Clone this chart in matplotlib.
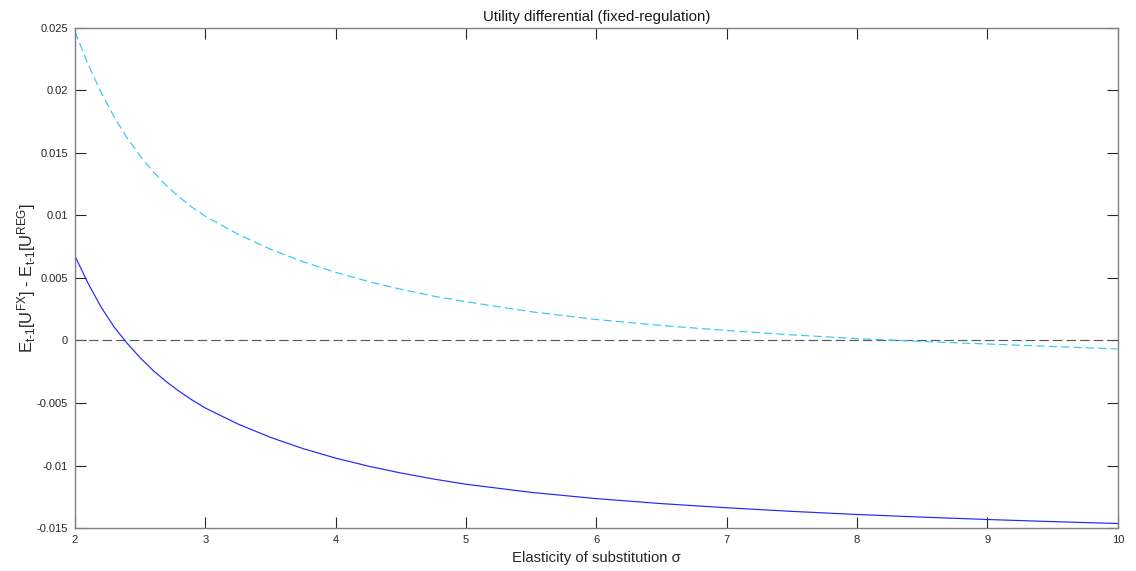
import matplotlib
matplotlib.use("Agg")
import matplotlib.pyplot as plt

plt.rcParams['font.family'] = ['Liberation Sans', 'DejaVu Sans']
plt.rcParams['mathtext.fontset'] = 'custom'
plt.rcParams['mathtext.rm'] = 'Liberation Sans'
plt.rcParams['mathtext.it'] = 'Liberation Sans'
plt.rcParams['mathtext.bf'] = 'Liberation Sans:bold'

sigma = [2.0, 2.1, 2.2, 2.3, 2.4, 2.5, 2.6, 2.7, 2.8, 2.9, 3.0, 3.25, 3.5, 3.75,
         4.0, 4.25, 4.5, 4.75, 5.0, 5.5, 6.0, 6.5, 7.0, 7.5, 8.0, 8.5, 9.0,
         9.5, 10.0]
solid_vals = [0.00676, 0.00458, 0.00268, 0.00108, -0.00022, -0.00138, -0.00240,
              -0.00329, -0.00407, -0.00477, -0.00540, -0.00668, -0.00775,
              -0.00865, -0.00941, -0.01005, -0.01060, -0.01108, -0.01150,
              -0.01215, -0.01265, -0.01305, -0.01338, -0.01367, -0.01392,
              -0.01413, -0.01432, -0.01449, -0.01464]
dashed_vals = [0.02470, 0.02210, 0.01985, 0.01790, 0.01620, 0.01476, 0.01350,
               0.01240, 0.01147, 0.01065, 0.00994, 0.00850, 0.00730, 0.00630,
               0.00545, 0.00472, 0.00410, 0.00355, 0.00310, 0.00230, 0.00168,
               0.00120, 0.00080, 0.00045, 0.00015, -0.00008, -0.00028,
               -0.00048, -0.00068]
zero_line = [0.0, 0.0]
x_range = [2, 10]

xticks = [2, 3, 4, 5, 6, 7, 8, 9, 10]
yticks = [-0.015, -0.01, -0.005, 0, 0.005, 0.01, 0.015, 0.02, 0.025]
yticklabels = ['-0.015', '-0.01', '-0.005', '0', '0.005', '0.01', '0.015', '0.02', '0.025']

fig = plt.figure(figsize=(11.36, 5.71), dpi=100)
ax = fig.add_axes([0.066, 0.0753, 0.918, 0.8757])

ax.plot(x_range, zero_line, linestyle=(0, (8, 3.5)), color='#5a5a5a', linewidth=0.85)
ax.plot(sigma, dashed_vals, linestyle=(0, (7, 3.5)), color='#33C8F5', linewidth=0.85)
ax.plot(sigma, solid_vals, linestyle='-', color='#2424FF', linewidth=0.85)

ax.set_xlim(2, 10)
ax.set_ylim(-0.015, 0.025)
ax.set_xticks(xticks)
ax.set_xticklabels([str(t) for t in xticks])
ax.set_yticks(yticks)
ax.set_yticklabels(yticklabels)

ax.tick_params(direction='in', length=8, width=0.8, top=True, right=True,
               labelsize=8, colors='#262626', pad=5)
for s in ax.spines.values():
    s.set_color('#808080')
    s.set_linewidth(1.0)

ax.set_title('Utility differential (fixed-regulation)', fontsize=10.8, color='#1a1a1a', pad=5)
ax.set_xlabel('Elasticity of substitution σ', fontsize=10.7, color='#262626', labelpad=4)
ax.set_ylabel(r'$\mathregular{E_{t\text{-}1}[U^{FX}]\ \text{-}\ E_{t\text{-}1}[U^{REG}]}$',
              fontsize=12, color='#262626', labelpad=-1)

fig.savefig('out.png', dpi=100)
